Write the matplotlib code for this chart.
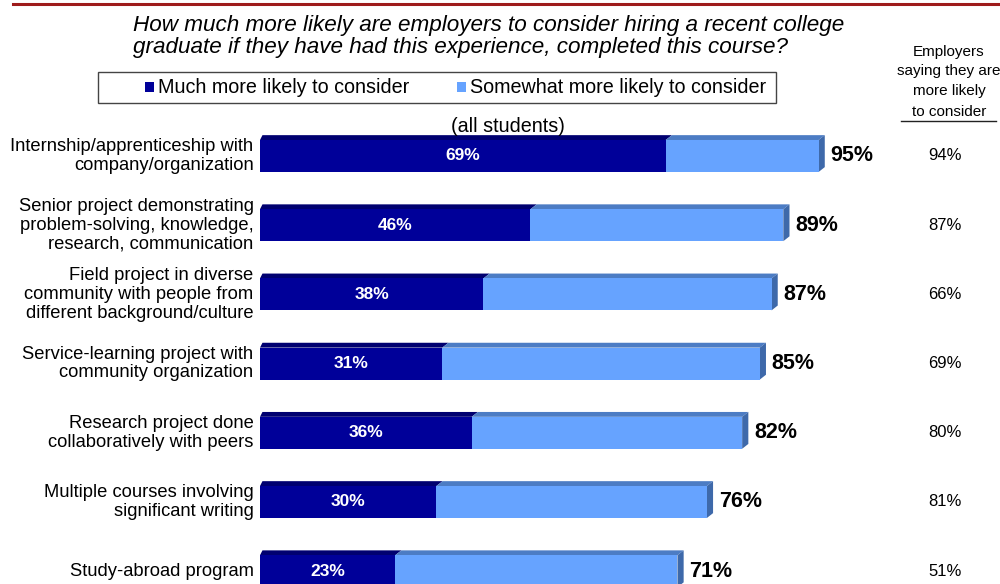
import matplotlib.pyplot as plt
import matplotlib.transforms as mtransforms
from matplotlib.patches import Polygon, Rectangle
from matplotlib.lines import Line2D

plt.rcParams['font.family'] = ['Liberation Sans', 'DejaVu Sans']

categories = [
    "Internship/apprenticeship with\ncompany/organization",
    "Senior project demonstrating\nproblem-solving, knowledge,\nresearch, communication",
    "Field project in diverse\ncommunity with people from\ndifferent background/culture",
    "Service-learning project with\ncommunity organization",
    "Research project done\ncollaboratively with peers",
    "Multiple courses involving\nsignificant writing",
    "Study-abroad program",
]
much_more = [69, 46, 38, 31, 36, 30, 23]
total_more = [95, 89, 87, 85, 82, 76, 71]
employers_col = ["94%", "87%", "66%", "69%", "80%", "81%", "51%"]

dark = "#000099"
dark_top = "#000070"
light = "#66A3FF"
light_top = "#4C7CC4"
side = "#3E69AA"

fig = plt.figure(figsize=(10, 5.84), dpi=100)

# page decorations (figure coords)
fig.add_artist(Line2D([0.013, 1.0], [0.993, 0.993], color="#9E1B1B", lw=2.2))
fig.text(0.133, 1 - 26 / 584, "How much more likely are employers to consider hiring a recent college",
         ha="left", va="center", fontsize=16.2, style="italic")
fig.text(0.133, 1 - 48 / 584, "graduate if they have had this experience, completed this course?",
         ha="left", va="center", fontsize=16.2, style="italic")
fig.add_artist(Rectangle((0.098, 0.823), 0.678, 0.054, transform=fig.transFigure,
                         fill=False, ec="#444444", lw=1))
fig.add_artist(Rectangle((0.145, 0.843), 0.009, 0.016, transform=fig.transFigure,
                         fc=dark, ec="none"))
fig.text(0.158, 0.850, "Much more likely to consider", ha="left", va="center", fontsize=14.2)
fig.add_artist(Rectangle((0.457, 0.843), 0.009, 0.016, transform=fig.transFigure,
                         fc=light, ec="none"))
fig.text(0.470, 0.850, "Somewhat more likely to consider", ha="left", va="center", fontsize=14.2)
fig.text(0.508, 1 - 126 / 584, "(all students)", ha="center", va="center", fontsize=14.2)

header = ["Employers", "saying they are", "more likely", "to consider"]
header_y = [52, 71, 91, 112]
for line, py in zip(header, header_y):
    fig.text(0.949, 1 - py / 584, line, ha="center", va="center", fontsize=11)
fig.add_artist(Line2D([0.901, 0.996], [1 - 121 / 584, 1 - 121 / 584], color="#222222", lw=1))

# bar axes
ax = fig.add_axes([0.26, 0.0, 0.588, (584 - 122) / 584])
ax.set_xlim(0, 100)
ax.set_ylim(6.185, -0.491)
ax.axis("off")

h = 0.462
dx = 1.05   # depth offset in % units
dy = 0.07   # depth offset in row units
ys = list(range(len(categories)))

ax.barh(ys, much_more, height=h, color=dark, zorder=3)
somewhat = [t - m for t, m in zip(total_more, much_more)]
ax.barh(ys, somewhat, left=much_more, height=h, color=light, zorder=3)

col_trans = mtransforms.blended_transform_factory(fig.transFigure, ax.transData)

for y, m, t in zip(ys, much_more, total_more):
    top = y - h / 2
    bot = y + h / 2
    # top faces
    ax.add_patch(Polygon([(0, top), (m, top), (m + dx, top - dy), (dx * 0.4, top - dy)],
                         closed=True, fc=dark_top, ec="none", zorder=2))
    ax.add_patch(Polygon([(m, top), (t, top), (t + dx, top - dy), (m + dx, top - dy)],
                         closed=True, fc=light_top, ec="none", zorder=2))
    # right face
    ax.add_patch(Polygon([(t, top), (t + dx, top - dy), (t + dx, bot - dy), (t, bot)],
                         closed=True, fc=side, ec="none", zorder=2))
    ax.text(m / 2, y, f"{m}%", ha="center", va="center", color="white",
            fontsize=12.5, fontweight="bold", zorder=4)
    ax.text(t + dx + 1.0, y, f"{t}%", ha="left", va="center", color="black",
            fontsize=15.5, fontweight="bold", zorder=4)

for y, lab, e in zip(ys, categories, employers_col):
    ax.text(-1.1, y, lab, ha="right", va="center", fontsize=13.2, linespacing=1.13,
            clip_on=False)
    ax.text(0.945, y, e, transform=col_trans, ha="center", va="center", fontsize=12)

fig.savefig("out.png", dpi=100)
